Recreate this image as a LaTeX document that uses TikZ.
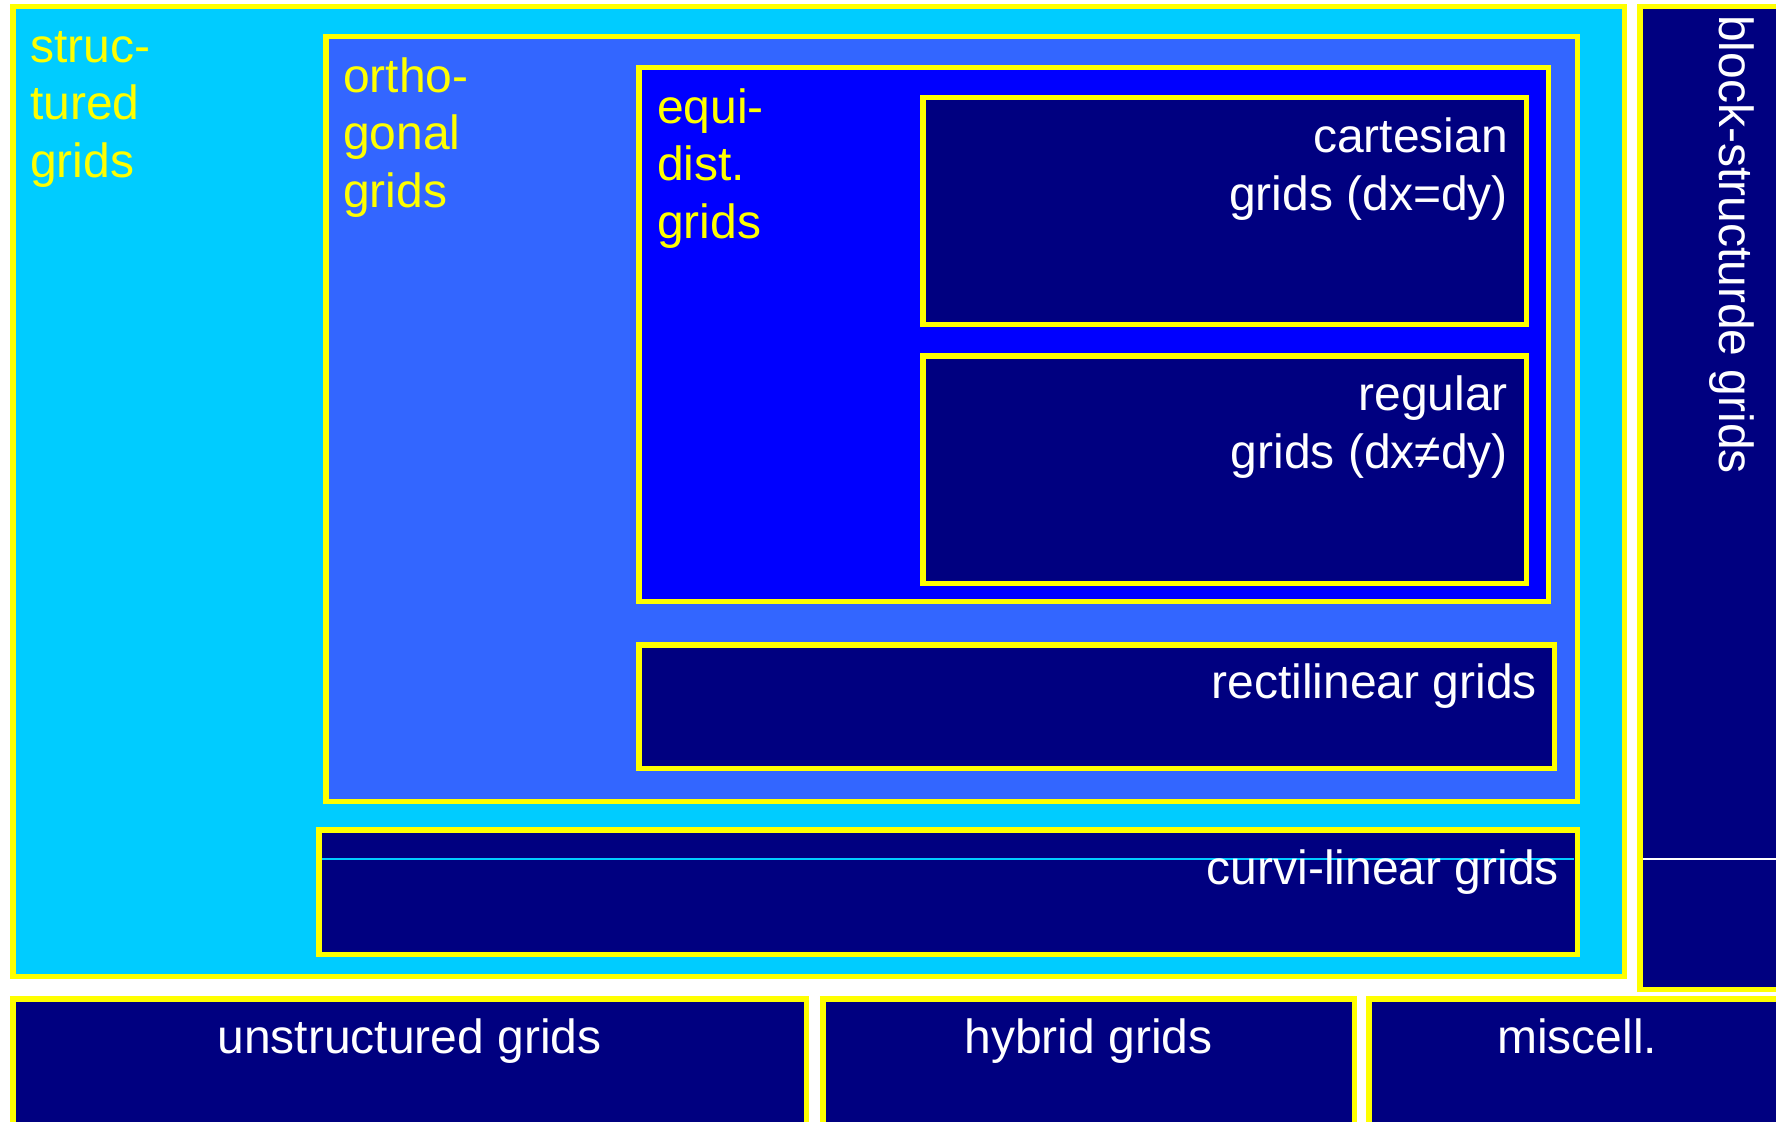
\documentclass[tikz,border=0pt]{standalone}
\usepackage{fontspec}
\setmainfont{Liberation Sans}
\usepackage{xcolor}
\usetikzlibrary{positioning}

\definecolor{structcol}{HTML}{00CCFF}
\definecolor{orthocol}{HTML}{3366FF}
\definecolor{equicol}{HTML}{0000FF}
\definecolor{gridnavy}{HTML}{000080}
\definecolor{frameyel}{HTML}{FFFF00}

\begin{document}
\begin{tikzpicture}[
      x=1pt, y=-1pt,
      font=\fontsize{48}{57.5}\selectfont,
      box/.style={draw=frameyel, line width=5.5pt, fill=gridnavy},
      ylbl/.style={text=frameyel, inner sep=0pt, align=left, anchor=base west},
      wlbl/.style={text=white, inner sep=0pt, align=right, anchor=base east},
      clbl/.style={text=white, inner sep=0pt, anchor=base}
    ]
    \useasboundingbox (0,0) rectangle (1776,1121);
    \clip (0,0) rectangle (1776,1121);

    % structured family
    \draw[box, fill=structcol] (12.75,6.75) rectangle (1624.25,976.25);
    \draw[box, fill=orthocol] (325.75,36.75) rectangle (1577.25,801.25);
    \draw[box, fill=equicol] (638.75,67.75) rectangle (1548.25,601.25);
    \draw[box] (922.75,97.75) rectangle (1526.25,324.25);
    \draw[box] (922.75,355.75) rectangle (1526.25,583.25);
    \draw[box] (638.75,644.75) rectangle (1554.25,768.25);
    \draw[box] (318.75,829.75) rectangle (1577.25,954.25);
    \draw[box] (1639.75,6.75) rectangle (1800,989.25);

    % other families
    \draw[box] (12.75,998.75) rectangle (806.25,1140);
    \draw[box] (822.75,998.75) rectangle (1354.25,1140);
    \draw[box] (1368.75,998.75) rectangle (1800,1140);

    \coordinate (cl) at (322,859);
    \coordinate (cr) at (1574,859);
    \coordinate (bl) at (1643,859);
    \coordinate (br) at (1776,859);
    \draw[structcol, line width=1.2pt] (cl) -- (cr);
    \draw[white, line width=1.2pt] (bl) -- (br);

    % multi-line labels sit on the baseline of their last line
    \node[ylbl] (structured) at (30,177) {struc-\\tured\\grids};
    \node[ylbl] (orthogonal) at (343,207) {ortho-\\gonal\\grids};
    \node[ylbl] (equidist) at (657,238) {equi-\\dist.\\grids};
    \node[wlbl] (cartesian) at (1508,210) {cartesian\\grids (dx=dy)};
    \node[wlbl] (regular) at (1508,468) {regular\\grids (dx≠dy)};
    \node[wlbl] (rectilinear) at (1537,698) {rectilinear grids};
    \node[wlbl] (curvilinear) at (1559,884) {curvi-linear grids};
    \node[text=white, inner sep=0pt, anchor=base west, rotate=-90] (block) at (1719,15) {block-structurde grids};
    \node[clbl] (unstructured) at (409.5,1053) {unstructured grids};
    \node[clbl] (hybrid) at (1088.5,1053) {hybrid grids};
    \node[clbl] (miscell) at (1577,1053) {miscell.};
  \end{tikzpicture}
\end{document}
